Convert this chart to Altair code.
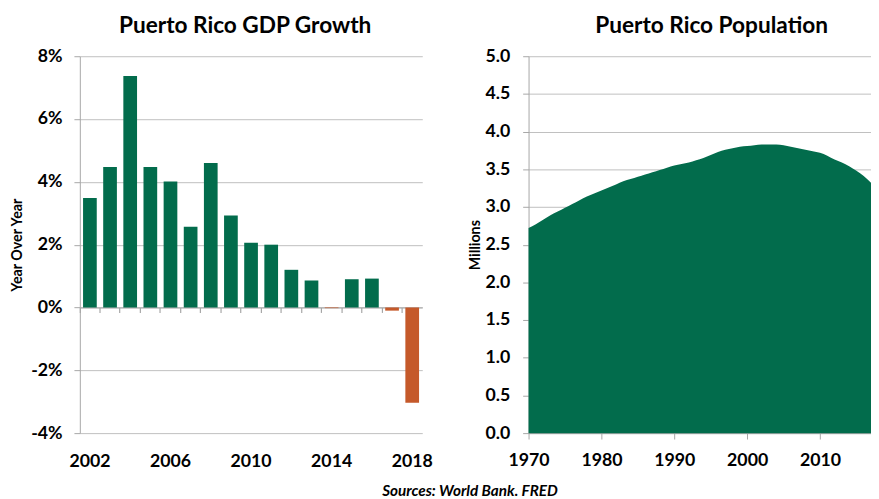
import altair as alt
import pandas as pd

# ---- data ----
gdp_years = [2002, 2003, 2004, 2005, 2006, 2007, 2008, 2009, 2010,
             2011, 2012, 2013, 2014, 2015, 2016, 2017, 2018]
gdp_growth = [3.49, 4.47, 7.37, 4.47, 4.01, 2.57, 4.60, 2.93, 2.06,
              2.00, 1.20, 0.86, -0.02, 0.90, 0.92, -0.10, -3.03]

pop_years = list(range(1970, 2018))
pop_millions = [2.72, 2.77, 2.83, 2.89, 2.94, 2.99, 3.04, 3.09, 3.14, 3.18,
                3.22, 3.26, 3.30, 3.34, 3.37, 3.40, 3.43, 3.46, 3.49, 3.52,
                3.55, 3.57, 3.59, 3.62, 3.65, 3.69, 3.73, 3.76, 3.78, 3.80,
                3.81, 3.82, 3.83, 3.83, 3.83, 3.82, 3.80, 3.78, 3.76, 3.74,
                3.72, 3.68, 3.63, 3.59, 3.54, 3.48, 3.41, 3.32]

gdp_ticks = [-4, -2, 0, 2, 4, 6, 8]
pop_ticks = [0, 0.5, 1.0, 1.5, 2.0, 2.5, 3.0, 3.5, 4.0, 4.5, 5.0]
pop_year_ticks = [1970, 1980, 1990, 2000, 2010]

GREEN = "#026C4C"
ORANGE = "#C5592A"
GRID = "#BFBFBF"
AXIS = "#A6A6A6"
FONT = "Lato"

gdp = pd.DataFrame({"year": gdp_years, "growth": gdp_growth})
pop = pd.DataFrame({"year": pop_years, "pop": pop_millions})

W, H = 348, 383

xscale = alt.Scale(paddingInner=0, paddingOuter=0)
yscale = alt.Scale(domain=[-4, 8], nice=False, zero=False)

bars = alt.Chart(gdp).mark_bar(width=alt.RelativeBandSize(0.68)).encode(
    x=alt.X("year:O", scale=xscale,
            axis=alt.Axis(labelExpr="datum.value % 4 == 2 ? datum.value : ''",
                          labelAngle=0, ticks=False, domain=False,
                          labelPadding=20, title=None, grid=False,
                          labelOverlap=False)),
    y=alt.Y("growth:Q", scale=yscale,
            axis=alt.Axis(values=gdp_ticks, labelExpr="datum.value + '%'",
                          tickSize=6, labelPadding=12, title="Year Over Year",
                          minExtent=50, maxExtent=50,
                          titlePadding=6, grid=True)),
    color=alt.condition(alt.datum.growth < 0, alt.value(ORANGE), alt.value(GREEN)),
)

zero_axis = alt.Chart(gdp).mark_bar(opacity=0).encode(
    x=alt.X("year:O", scale=xscale,
            axis=alt.Axis(orient="bottom", labels=False, ticks=True, domain=True,
                          tickSize=5, tickWidth=1.2, bandPosition=0, offset=-127.67,
                          title=None, grid=False)),
    y=alt.Y("growth:Q", scale=yscale),
)

left = alt.layer(bars, zero_axis).resolve_axis(x="independent").properties(
    width=W, height=H,
    title=alt.TitleParams("Puerto Rico GDP Growth", dx=-6, offset=10),
)

right = alt.Chart(pop).mark_area(color=GREEN, interpolate="monotone").encode(
    x=alt.X("year:Q", scale=alt.Scale(domain=[1970, 2017], nice=False, zero=False),
            axis=alt.Axis(values=pop_year_ticks, format="d", tickSize=6,
                          labelPadding=13, labelFlush=False, title=None, grid=False)),
    y=alt.Y("pop:Q", scale=alt.Scale(domain=[0, 5], nice=False),
            axis=alt.Axis(values=pop_ticks, format=".1f", tickSize=6,
                          labelPadding=13, title="Millions",
                          minExtent=42, maxExtent=42, titlePadding=5,
                          grid=True)),
).properties(
    width=348, height=H,
    title=alt.TitleParams("Puerto Rico Population", dx=12, offset=10),
)

chart = alt.hconcat(left, right, spacing=35).properties(
    padding={"left": 2, "top": 3, "right": 0, "bottom": 0},
    title=alt.TitleParams("Sources: World Bank. FRED", orient="bottom",
                          anchor="middle", fontSize=15.5, fontStyle="italic",
                          fontWeight="bold", font=FONT, color="#000000",
                          dx=30, offset=14),
).configure_view(stroke=None).configure_axis(
    labelFont=FONT, labelFontSize=18, labelFontWeight="bold", labelColor="#000000",
    titleFont=FONT, titleFontSize=14.5, titleFontWeight="bold", titleColor="#000000",
    gridColor=GRID, gridWidth=1, domainColor=AXIS, tickColor=AXIS,
).configure_title(
    font=FONT, fontSize=23, fontWeight="bold", color="#000000", anchor="middle",
)

chart.save("out.html", embed_options={"renderer": "svg", "actions": False})
